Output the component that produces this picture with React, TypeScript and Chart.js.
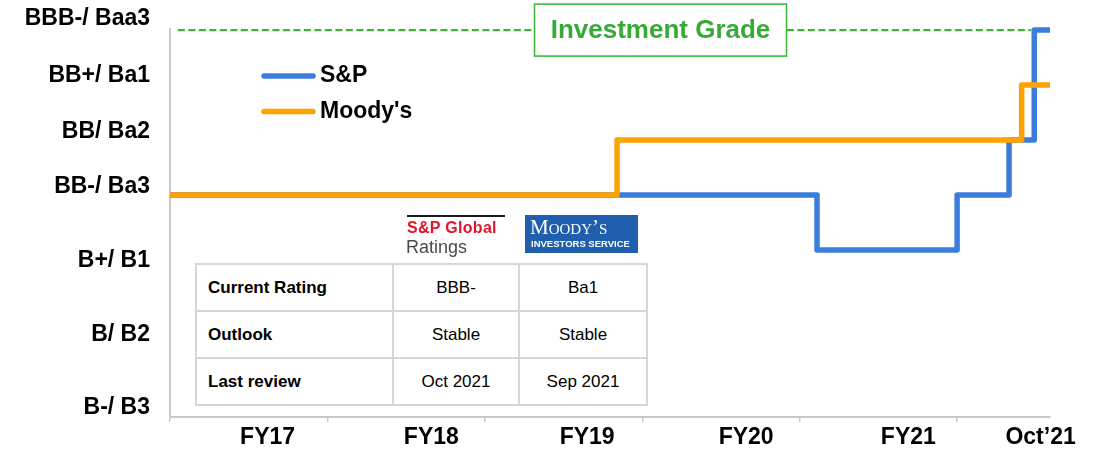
import React, { useEffect, useRef } from 'react';
import { Chart, registerables } from 'chart.js';

Chart.register(...registerables);

const FONT = "'Liberation Sans', Arial, Helvetica, sans-serif";

// Rating scale (0 = lowest)
const ratingLabels = ['B-/ B3', 'B/ B2', 'B+/ B1', 'BB-/ Ba3', 'BB/ Ba2', 'BB+/ Ba1', 'BBB-/ Baa3'];
const ratingLabelAt = [-0.87, 0.45, 1.8, 3.15, 4.16, 5.18, 6.2];

// Period axis
const periodLabels = ['FY17', 'FY18', 'FY19', 'FY20', 'FY21', 'Oct\u201921'];
const periodLabelAt = [0.62, 1.66, 2.65, 3.66, 4.69, 5.53];
const periodTickAt = [0, 1, 2, 3, 4, 5];

// S&P rating history (step changes)
const spTime = [0, 4.11, 5.0, 5.33, 5.49, 5.59];
const spRating = [3, 2, 3, 4, 6, 6];

// Moody's rating history (step changes)
const moodysTime = [0, 2.84, 5.41, 5.59];
const moodysRating = [3, 4, 5, 5];

// Investment grade threshold
const igTime = [0.05, 5.47];
const igRating = [6, 6];

const tableHeader = ['', 'S&P Global Ratings', "Moody's Investors Service"];
const tableRows = [
  ['Current Rating', 'BBB-', 'Ba1'],
  ['Outlook', 'Stable', 'Stable'],
  ['Last review', 'Oct 2021', 'Sep 2021'],
];

const BLUE = '#3b7ddd';
const ORANGE = '#ffa200';
const GREEN = '#3cb43c';

const pts = (xs: number[], ys: number[]) => xs.map((x, i) => ({ x, y: ys[i] }));

const legendPlugin = {
  id: 'inlineLegend',
  afterDraw(chart: any) {
    const ctx = chart.ctx;
    const ds = chart.data.datasets.filter((d: any) => d.showInLegend);
    ctx.save();
    ds.forEach((d: any, i: number) => {
      const y = 76 + i * 35.5;
      ctx.strokeStyle = d.borderColor;
      ctx.lineWidth = 5.5;
      ctx.lineCap = 'round';
      ctx.beginPath();
      ctx.moveTo(264, y);
      ctx.lineTo(313, y);
      ctx.stroke();
      ctx.fillStyle = '#000';
      ctx.font = `bold 23px ${FONT}`;
      ctx.textBaseline = 'middle';
      ctx.textAlign = 'left';
      ctx.fillText(d.label, 320, y);
    });
    ctx.restore();
  },
};

const igBoxPlugin = {
  id: 'igBox',
  afterDatasetsDraw(chart: any) {
    const ctx = chart.ctx;
    const y = chart.scales.y.getPixelForValue(6);
    const cx = 660.5;
    const w = 252;
    const h = 52;
    ctx.save();
    ctx.fillStyle = '#fff';
    ctx.fillRect(cx - w / 2, y - h / 2, w, h);
    ctx.strokeStyle = '#40b840';
    ctx.lineWidth = 1.6;
    ctx.strokeRect(cx - w / 2, y - h / 2, w, h);
    ctx.fillStyle = '#37aa37';
    ctx.font = `bold 26px ${FONT}`;
    ctx.textAlign = 'center';
    ctx.textBaseline = 'middle';
    ctx.fillText('Investment Grade', cx, y + 1);
    ctx.restore();
  },
};

export default function App() {
  const ref = useRef<HTMLCanvasElement | null>(null);

  useEffect(() => {
    if (!ref.current) return;
    const chart = new Chart(ref.current, {
      type: 'line',
      data: {
        datasets: [
          {
            label: 'S&P',
            data: pts(spTime, spRating),
            borderColor: BLUE,
            borderWidth: 5.5,
            stepped: 'before',
            pointRadius: 0,
            borderJoinStyle: 'round',
            order: 1,
            showInLegend: true,
          } as any,
          {
            label: "Moody's",
            data: pts(moodysTime, moodysRating),
            borderColor: ORANGE,
            borderWidth: 5.5,
            stepped: 'before',
            pointRadius: 0,
            borderJoinStyle: 'round',
            order: 0,
            showInLegend: true,
          } as any,
          {
            label: 'Investment grade',
            data: pts(igTime, igRating),
            borderColor: GREEN,
            borderWidth: 2.2,
            borderDash: [7, 3.5],
            pointRadius: 0,
            order: 2,
          } as any,
        ],
      },
      options: {
        animation: false,
        responsive: false,
        clip: false as any,
        layout: { padding: { top: 29, right: 55, left: 0, bottom: 0 } },
        plugins: { legend: { display: false }, tooltip: { enabled: false } },
        scales: {
          x: {
            type: 'linear',
            min: 0,
            max: 5.59,
            afterBuildTicks: (s: any) => {
              s.ticks = [...periodTickAt, ...periodLabelAt]
                .sort((a, b) => a - b)
                .map((v) => ({ value: v }));
            },
            afterFit: (s: any) => {
              s.height = 34;
            },
            ticks: {
              autoSkip: false,
              maxRotation: 0,
              padding: 2,
              color: '#000',
              font: { family: FONT, size: 23, weight: 'bold' },
              callback: (v: any) => {
                const i = periodLabelAt.indexOf(v);
                return i >= 0 ? periodLabels[i] : '';
              },
            },
            grid: {
              drawOnChartArea: false,
              drawTicks: true,
              tickLength: 5,
              lineWidth: 1.5,
              tickColor: (c: any) =>
                c.tick && periodTickAt.indexOf(c.tick.value) >= 0 ? '#c9c9c9' : 'rgba(0,0,0,0)',
            },
            border: { color: '#c9c9c9', width: 2 },
          },
          y: {
            type: 'linear',
            min: -1.04,
            max: 6.02,
            afterBuildTicks: (s: any) => {
              s.ticks = ratingLabelAt.map((v) => ({ value: v }));
            },
            afterFit: (s: any) => {
              s.width = 170;
            },
            ticks: {
              autoSkip: false,
              padding: 12,
              color: '#000',
              font: { family: FONT, size: 23, weight: 'bold' },
              callback: (v: any) => {
                const i = ratingLabelAt.indexOf(v);
                return i >= 0 ? ratingLabels[i] : '';
              },
            },
            grid: { display: false },
            border: { color: '#c9c9c9', width: 2 },
          },
        },
      } as any,
      plugins: [igBoxPlugin, legendPlugin],
    });
    return () => chart.destroy();
  }, []);

  const cell: React.CSSProperties = {
    border: '2px solid #d6d6d6',
    height: 45,
    padding: 0,
    fontSize: 17,
    fontFamily: FONT,
    color: '#000',
    textAlign: 'center',
    boxSizing: 'border-box',
  };

  return (
    <div style={{ position: 'fixed', left: 0, top: 0, width: 1105, height: 451, background: '#fff', overflow: 'hidden' }}>
      <canvas ref={ref} width={1105} height={451} style={{ position: 'absolute', left: 0, top: 0 }} />
      {/* S&P Global Ratings logo */}
      <div style={{ position: 'absolute', left: 407, top: 215, width: 98, height: 2, background: '#1a1a1a' }} />
      <div
        title={tableHeader[1]}
        style={{ position: 'absolute', left: 407, top: 219, fontFamily: FONT, fontWeight: 'bold', fontSize: 16, lineHeight: '18px', color: '#e4132b', whiteSpace: 'nowrap', letterSpacing: 0.3 }}
      >
        S&amp;P Global
      </div>
      <div style={{ position: 'absolute', left: 406, top: 237, fontFamily: FONT, fontSize: 18, lineHeight: '20px', color: '#4a4a4a', whiteSpace: 'nowrap' }}>
        Ratings
      </div>
      {/* Moody's logo */}
      <div
        title={tableHeader[2]}
        style={{ position: 'absolute', left: 525, top: 215, width: 113, height: 38, background: '#1f5fad', color: '#fff', overflow: 'hidden' }}
      >
        <div style={{ position: 'absolute', left: 5, top: 1, fontFamily: "'Liberation Serif', 'DejaVu Serif', serif", fontSize: 21, lineHeight: '22px', fontVariant: 'small-caps', whiteSpace: 'nowrap' }}>
          Moody’s
        </div>
        <div style={{ position: 'absolute', left: 6, top: 23, fontFamily: FONT, fontWeight: 'bold', fontSize: 9.5, lineHeight: '11px', whiteSpace: 'nowrap' }}>
          INVESTORS SERVICE
        </div>
      </div>
      {/* Ratings table */}
      <table style={{ position: 'absolute', left: 195, top: 263, borderCollapse: 'collapse', background: '#fff', tableLayout: 'fixed', width: 451 }}>
        <colgroup>
          <col style={{ width: 197 }} />
          <col style={{ width: 126 }} />
          <col style={{ width: 128 }} />
        </colgroup>
        <tbody>
          {tableRows.map((r, i) => (
            <tr key={i} style={{ height: 47 }}>
              <td style={{ ...cell, textAlign: 'left', paddingLeft: 11, fontWeight: 'bold' }}>{r[0]}</td>
              <td style={cell}>{r[1]}</td>
              <td style={cell}>{r[2]}</td>
            </tr>
          ))}
        </tbody>
      </table>
    </div>
  );
}
